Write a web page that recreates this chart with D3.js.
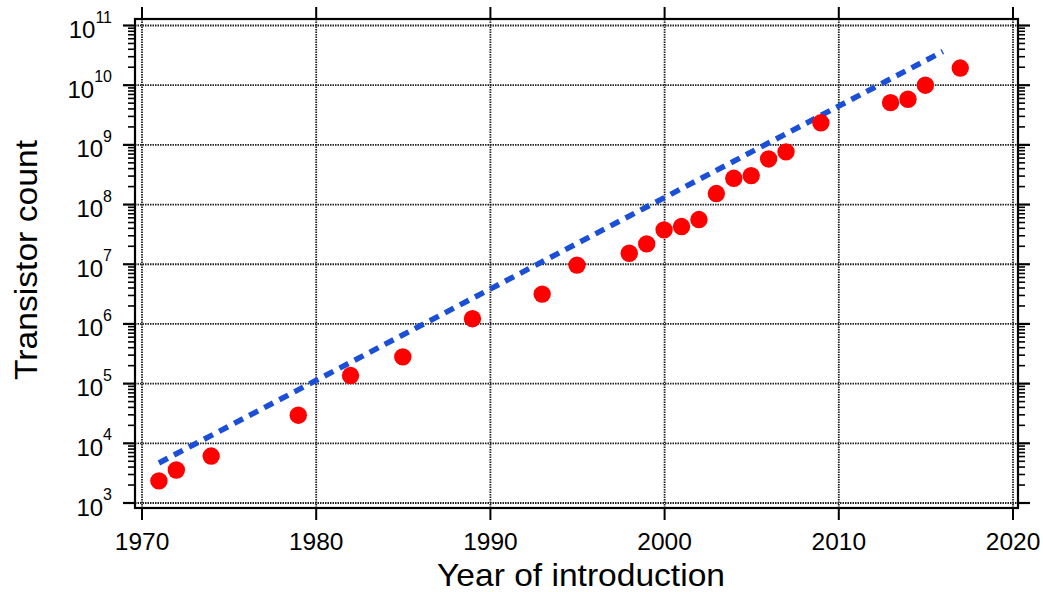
<!DOCTYPE html>
<html>
<head>
<meta charset="utf-8">
<script src="https://cdn.jsdelivr.net/npm/d3@7"></script>
<style>
  html, body { margin: 0; padding: 0; background: #fff; }
  svg { display: block; font-family: "Liberation Sans", Arial, Helvetica, sans-serif; }
</style>
</head>
<body>
<svg id="chart" width="1043" height="592"></svg>
<script>
// Microprocessor transistor counts by year of introduction
const years = [1971, 1972, 1974, 1979, 1982, 1985, 1989, 1993, 1995, 1998, 1999, 2000,
               2001, 2002, 2003, 2004, 2005, 2006, 2007, 2009, 2013, 2014, 2015, 2017];
const counts = [2300, 3500, 6000, 29000, 134000, 275000, 1.2e6, 3.1e6, 9.5e6, 1.5e7, 2.15e7, 3.7e7,
                4.2e7, 5.5e7, 1.5e8, 2.7e8, 3.0e8, 5.7e8, 7.5e8, 2.3e9, 5.0e9, 5.7e9, 9.8e9, 1.9e10];

// Exponential trend (doubling roughly every two years)
const trendYears = [1971, 2016];
const trendCounts = [4.6e3, 3.6e10];

// Axis ticks
const xTicks = [1970, 1980, 1990, 2000, 2010, 2020];
const yExponents = [3, 4, 5, 6, 7, 8, 9, 10, 11];

const svg = d3.select("#chart");

const frame = { left: 135, right: 1018, top: 19, bottom: 508 };

const x = d3.scaleLinear().domain([1970, 2020]).range([141.5, 1012.5]);
const y = d3.scaleLog().domain([1e3, 1e11]).range([502.5, 25]);

const yMajor = yExponents.map(e => Math.pow(10, e));
const yMinor = [];
for (let e = 3; e < 11; e++) {
  for (let m = 2; m <= 9; m++) yMinor.push(m * Math.pow(10, e));
}

// Grid lines
const grid = svg.append("g").attr("class", "grid");
grid.append("g")
  .attr("transform", `translate(0,${frame.bottom})`)
  .call(d3.axisBottom(x).tickValues(xTicks).tickSize(-(frame.bottom - frame.top)).tickFormat(""))
  .call(g => g.select(".domain").remove());
grid.append("g")
  .attr("transform", `translate(${frame.left},0)`)
  .call(d3.axisLeft(y).tickValues(yMajor).tickSize(-(frame.right - frame.left)).tickFormat(""))
  .call(g => g.select(".domain").remove());
grid.selectAll("line")
  .attr("stroke", "#222")
  .attr("stroke-width", 1.8)
  .attr("stroke-dasharray", "1.5,1");

// Frame
svg.append("rect")
  .attr("x", frame.left).attr("y", frame.top)
  .attr("width", frame.right - frame.left)
  .attr("height", frame.bottom - frame.top)
  .attr("fill", "none").attr("stroke", "#000").attr("stroke-width", 2.2);

function styleTicks(g, w) {
  g.select(".domain").remove();
  g.selectAll("line").attr("stroke", "#000").attr("stroke-width", w);
}

// Bottom axis with labels
const bottomAxis = svg.append("g")
  .attr("transform", `translate(0,${frame.bottom})`)
  .call(d3.axisBottom(x).tickValues(xTicks).tickSize(12).tickFormat(d3.format("d")));
styleTicks(bottomAxis, 2);
bottomAxis.selectAll("text")
  .attr("y", 42).attr("dy", 0)
  .attr("fill", "#000")
  .style("font-size", "24.5px")
  .style("font-family", "'Liberation Sans', Arial, sans-serif");

// Top axis ticks
const topAxis = svg.append("g")
  .attr("transform", `translate(0,${frame.top})`)
  .call(d3.axisTop(x).tickValues(xTicks).tickSize(12).tickFormat(""));
styleTicks(topAxis, 2);

// Left axis: major and minor ticks
const leftMinor = svg.append("g")
  .attr("transform", `translate(${frame.left},0)`)
  .call(d3.axisLeft(y).tickValues(yMinor).tickSize(7).tickFormat(""));
styleTicks(leftMinor, 1.6);
const leftMajor = svg.append("g")
  .attr("transform", `translate(${frame.left},0)`)
  .call(d3.axisLeft(y).tickValues(yMajor).tickSize(12).tickFormat(""));
styleTicks(leftMajor, 2.2);

// Right axis: major and minor ticks
const rightMinor = svg.append("g")
  .attr("transform", `translate(${frame.right},0)`)
  .call(d3.axisRight(y).tickValues(yMinor).tickSize(7).tickFormat(""));
styleTicks(rightMinor, 1.6);
const rightMajor = svg.append("g")
  .attr("transform", `translate(${frame.right},0)`)
  .call(d3.axisRight(y).tickValues(yMajor).tickSize(12).tickFormat(""));
styleTicks(rightMajor, 2.2);

// Power-of-ten labels
const yLabels = svg.append("g").attr("class", "y-labels");
yExponents.forEach(e => {
  const t = yLabels.append("text")
    .attr("x", 112)
    .attr("y", y(Math.pow(10, e)) + 13)
    .attr("text-anchor", "end")
    .attr("fill", "#000")
    .style("font-size", "24px");
  t.append("tspan").text("10");
  t.append("tspan")
    .attr("dy", -15.5)
    .style("font-size", "16px")
    .text(String(e));
});

// Trend line
const line = d3.line()
  .x((d, i) => x(trendYears[i]))
  .y((d, i) => y(trendCounts[i]));
svg.append("path")
  .datum(trendYears)
  .attr("d", line)
  .attr("fill", "none")
  .attr("stroke", "#1a4fd6")
  .attr("stroke-width", 5.5)
  .attr("stroke-dasharray", "10,7");

// Data points
svg.append("g")
  .selectAll("circle")
  .data(years)
  .join("circle")
  .attr("cx", d => x(d))
  .attr("cy", (d, i) => y(counts[i]))
  .attr("r", 8.7)
  .attr("fill", "#ff0000");

// Axis titles
svg.append("text")
  .attr("x", 581)
  .attr("y", 586)
  .attr("text-anchor", "middle")
  .attr("fill", "#000")
  .attr("textLength", 288)
  .attr("lengthAdjust", "spacingAndGlyphs")
  .style("font-size", "30.5px")
  .text("Year of introduction");

svg.append("text")
  .attr("transform", "translate(37,260) rotate(-90)")
  .attr("text-anchor", "middle")
  .attr("fill", "#000")
  .attr("textLength", 240)
  .attr("lengthAdjust", "spacingAndGlyphs")
  .style("font-size", "30.5px")
  .text("Transistor count");
</script>
</body>
</html>
